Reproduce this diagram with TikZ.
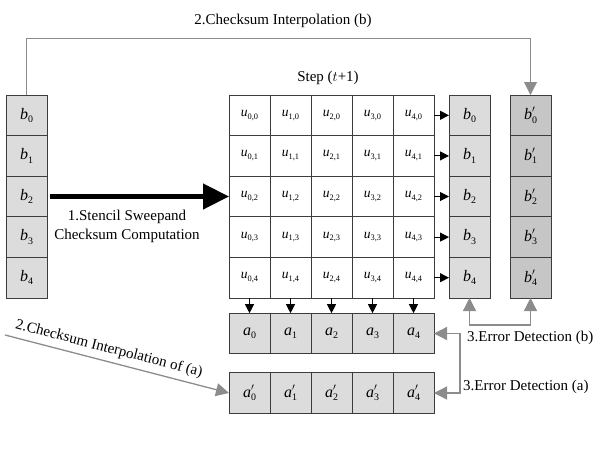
\documentclass[tikz,border=0pt]{standalone}
\usepackage{fontspec}
\setmainfont{Liberation Serif}
\usetikzlibrary{arrows.meta,calc}
\definecolor{cellfill}{HTML}{DCDCDC}
\definecolor{darkfill}{HTML}{C6C6C6}
\definecolor{edgecol}{HTML}{3C3C3C}
\definecolor{conn}{HTML}{8C8C8C}
\newcommand\sv[2]{{\itshape #1}\raisebox{-0.45ex}{\fontsize{0.62em}{0.62em}\selectfont #2}}
\newcommand\pv[2]{{\itshape #1}\rlap{\raisebox{0.95ex}{\fontsize{0.62em}{0.62em}\selectfont$\prime$}}\raisebox{-0.45ex}{\fontsize{0.62em}{0.62em}\selectfont #2}}
\begin{document}
\begin{tikzpicture}[x=1pt,y=-1pt,
  cellbase/.style={draw=edgecol,line width=1pt,minimum width=41pt,minimum height=40.6pt,inner sep=0pt,outer sep=0pt},
  ucell/.style={cellbase,fill=white,font=\fontsize{13.5}{13.5}\selectfont},
  bcell/.style={cellbase,fill=cellfill,font=\fontsize{16}{16}\selectfont},
  pcell/.style={cellbase,fill=darkfill,font=\fontsize{16}{16}\selectfont},
  lbl/.style={text=black,font=\fontsize{15}{19}\selectfont,inner sep=1pt},
  blackarrow/.style={black,line width=1pt,-{Triangle[length=9pt,width=9pt]}},
  garrow/.style={conn,line width=1.3pt}
]
\useasboundingbox (0,0) rectangle (600,450);
% left b column
\foreach \k in {0,...,4}
  \node[bcell] (lb\k) at (26.5,115.3+40.6*\k) {\sv{b}{\k}};
% grid
\foreach \i in {0,...,4}
  \foreach \j in {0,...,4}
    \node[ucell] (u\i\j) at (249.5+41*\i,115.3+40.6*\j) {\sv{u}{\i,\j}};
% right b and b'
\foreach \k in {0,...,4} {
  \node[bcell] (rb\k) at (469.5,115.3+40.6*\k) {\sv{b}{\k}};
  \node[pcell] (bp\k) at (530.5,115.3+40.6*\k) {\pv{b}{\k}};
}
% a rows
\foreach \k in {0,...,4} {
  \node[bcell] (a\k) at (249.5+41*\k,333.5) {\sv{a}{\k}};
  \node[bcell] (ap\k) at (249.5+41*\k,393) {\pv{a}{\k}};
}
% small black arrows
\foreach \k in {0,...,4} {
  \draw[blackarrow] (u4\k.east) -- (rb\k.west);
  \draw[blackarrow] (u\k4.south) -- (a\k.north);
}
% big arrow
\draw[line width=4.5pt,black,-{Triangle[length=26pt,width=25pt]}] ($(lb2.east)+(3,0)$) -- (u02.west);
\node[lbl,align=center] (l1) at (127,226) {1.Stencil Sweepand\\Checksum Computation};
% step label
\node[lbl] (step) at (328,78) {Step ($t$+1)};
% top checksum interpolation (b)
\draw[conn,line width=1pt,-{Triangle[length=13pt,width=13pt]}] (lb0.north) -- (lb0.north |- 0,38) -| (bp0.north);
\node[lbl] (l2b) at (283,21) {2.Checksum Interpolation (b)};
% checksum interpolation of (a)
\coordinate (cia) at (5,335);
\draw[garrow,-{Triangle[length=13pt,width=13pt]}] (cia) -- (ap0.west)
  node[lbl,pos=0.45,sloped,above=4pt] (l2a) {2.Checksum Interpolation of (a)};
% error detection (b)
\draw[garrow,{Triangle[length=13pt,width=13pt]}-{Triangle[length=13pt,width=13pt]}] (rb4.south) -- (rb4.south |- 0,325) -| (bp4.south);
\node[lbl,anchor=west] (l3b) at (466,338) {3.Error Detection (b)};
% error detection (a)
\draw[garrow,{Triangle[length=13pt,width=13pt]}-{Triangle[length=13pt,width=13pt]}] (a4.east) -- ++(26,0) |- (ap4.east);
\node[lbl,anchor=west] (l3a) at (462,387) {3.Error Detection (a)};
\end{tikzpicture}
\end{document}
